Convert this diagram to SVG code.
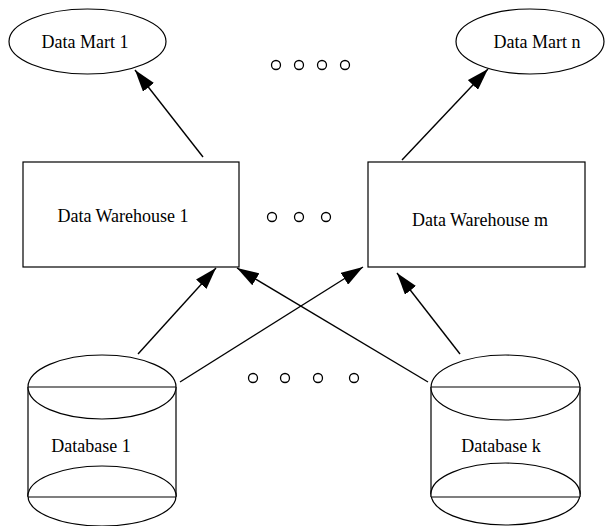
<svg xmlns="http://www.w3.org/2000/svg" width="605" height="526" viewBox="0 0 605 526">
  <style>
    .shape { fill: #ffffff; stroke: #000000; stroke-width: 1.2; }
    .edge { fill: none; stroke: #000000; stroke-width: 1.4; }
    .dot { fill: none; stroke: #000000; stroke-width: 1.3; }
    .label { font-family: "Liberation Serif", "Times New Roman", serif; font-size: 18px; fill: #000000; text-anchor: middle; }
  </style>
  <defs>
    <marker id="arrow" viewBox="0 0 22 14" refX="22" refY="7" markerWidth="22" markerHeight="14" markerUnits="userSpaceOnUse" orient="auto">
      <path d="M0,0 L22,7 L0,14 Z" fill="#000000"/>
    </marker>
  </defs>

  <rect width="605" height="526" fill="#ffffff"/>

  <!-- data marts -->
  <g id="mart1">
    <ellipse class="shape" cx="87.5" cy="41.5" rx="78.5" ry="32.5"/>
    <text class="label" x="85" y="48">Data Mart 1</text>
  </g>
  <g id="martn">
    <ellipse class="shape" cx="530" cy="41.5" rx="74" ry="32.5"/>
    <text class="label" x="537" y="48">Data Mart n</text>
  </g>

  <!-- warehouses -->
  <g id="warehouse1">
    <rect class="shape" x="23" y="162" width="216" height="105"/>
    <text class="label" x="123" y="222">Data Warehouse 1</text>
  </g>
  <g id="warehousem">
    <rect class="shape" x="368" y="162" width="217" height="105"/>
    <text class="label" x="480" y="226">Data Warehouse m</text>
  </g>

  <!-- source databases -->
  <g id="database1">
    <ellipse class="shape" cx="102" cy="496" rx="74" ry="30"/>
    <rect x="28" y="387" width="148" height="110" fill="#ffffff" stroke="none"/>
    <path class="shape" fill="none" d="M28,387 V497 M176,387 V497 M28,497 H176"/>
    <path class="shape" fill="none" d="M28,496 A74,30 0 0 1 176,496"/>
    <ellipse class="shape" cx="102" cy="387" rx="74" ry="32"/>
    <line class="shape" x1="28" y1="387" x2="176" y2="387"/>
    <text class="label" x="91" y="452">Database 1</text>
  </g>
  <g id="databasek">
    <ellipse class="shape" cx="505.5" cy="494" rx="74.5" ry="31"/>
    <rect x="431" y="387" width="149" height="110" fill="#ffffff" stroke="none"/>
    <path class="shape" fill="none" d="M431,387 V497 M580,387 V497 M431,497 H580"/>
    <path class="shape" fill="none" d="M431,494 A74.5,31 0 0 1 580,494"/>
    <ellipse class="shape" cx="505.5" cy="387.5" rx="74.5" ry="32.5"/>
    <line class="shape" x1="431" y1="387" x2="580" y2="387"/>
    <text class="label" x="501" y="452">Database k</text>
  </g>

  <!-- ellipsis markers -->
  <g id="ellipsis">
    <circle class="dot" cx="276" cy="65" r="4.5"/>
    <circle class="dot" cx="299" cy="65" r="4.5"/>
    <circle class="dot" cx="322" cy="65" r="4.5"/>
    <circle class="dot" cx="345" cy="65" r="4.5"/>
    <circle class="dot" cx="272" cy="217" r="4.5"/>
    <circle class="dot" cx="299" cy="217" r="4.5"/>
    <circle class="dot" cx="326" cy="217" r="4.5"/>
    <circle class="dot" cx="253" cy="378" r="4.5"/>
    <circle class="dot" cx="285" cy="378" r="4.5"/>
    <circle class="dot" cx="318" cy="378" r="4.5"/>
    <circle class="dot" cx="354" cy="378" r="4.5"/>
  </g>

  <!-- connectors -->
  <g id="connectors">
    <line class="edge" x1="203" y1="157" x2="135" y2="70" marker-end="url(#arrow)"/>
    <line class="edge" x1="402" y1="160" x2="488" y2="69" marker-end="url(#arrow)"/>
    <line class="edge" x1="138" y1="354" x2="216" y2="268" marker-end="url(#arrow)"/>
    <line class="edge" x1="180" y1="382" x2="363" y2="267" marker-end="url(#arrow)"/>
    <line class="edge" x1="428" y1="382" x2="237" y2="268" marker-end="url(#arrow)"/>
    <line class="edge" x1="460" y1="354" x2="397" y2="273" marker-end="url(#arrow)"/>
  </g>
</svg>
